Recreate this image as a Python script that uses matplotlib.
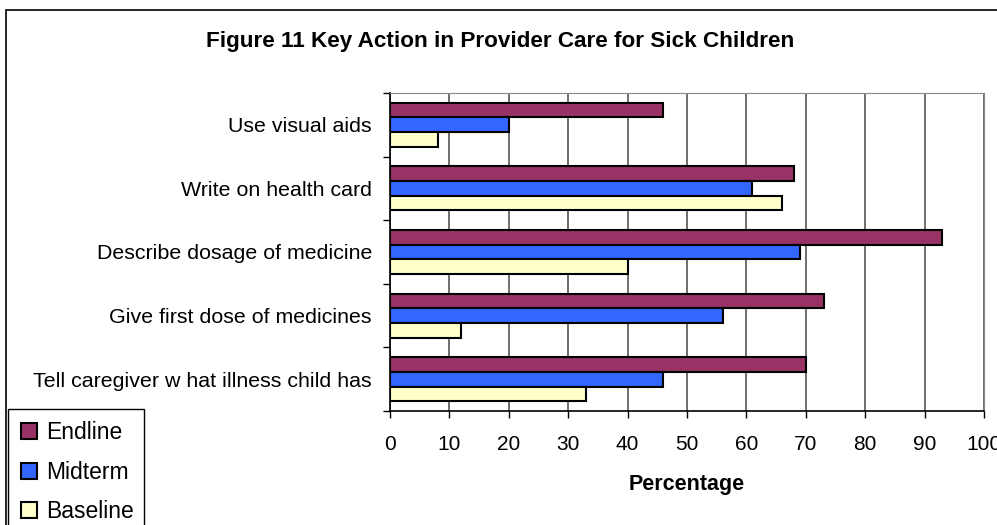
import matplotlib
matplotlib.use('Agg')
import numpy as np
import matplotlib.pyplot as plt
from matplotlib.patches import Rectangle

plt.rcParams['font.family'] = ['Liberation Sans', 'DejaVu Sans']

actions = ['Use visual aids', 'Write on health card', 'Describe dosage of medicine',
           'Give first dose of medicines', 'Tell caregiver w hat illness child has']
endline = [46, 68, 93, 73, 70]
midterm = [20, 61, 69, 56, 46]
baseline = [8, 66, 40, 12, 33]
series = ['Endline', 'Midterm', 'Baseline']
colors = ['#993366', '#3366FF', '#FFFFCC']

W, H = 997, 525
fig = plt.figure(figsize=(W / 100, H / 100), dpi=100)

# outer chart border, runs off the right and bottom edges
fig.patches.append(Rectangle((6 / W, -0.1), 1.2, 1 - 10 / H + 0.1, transform=fig.transFigure,
                             fill=False, edgecolor='black', lw=1.2))

ax = fig.add_axes([390 / W, 1 - 411 / H, 594 / W, 318 / H])

y = np.arange(len(actions))[::-1]
h = 0.23
bars = []
for vals, off, c, name in zip([endline, midterm, baseline], [h, 0, -h], colors, series):
    b = ax.barh(y + off, vals, height=h, color=c, edgecolor='black', lw=1.5, label=name, zorder=3)
    bars.append(b)

ax.set_xlim(0, 100)
ax.set_ylim(-0.5, len(actions) - 0.5)
ax.set_xticks(range(0, 101, 10))
ax.tick_params(axis='x', length=5, width=1, pad=12, labelsize=15)
ax.set_yticks(y)
ax.set_yticklabels(actions, fontsize=15.4)
ax.tick_params(axis='y', length=0, pad=13)
ax.set_yticks(np.arange(-0.5, len(actions), 1), minor=True)
ax.tick_params(axis='y', which='minor', length=5, width=1)
ax.grid(axis='x', color='#555555', lw=1.2, zorder=0)
ax.spines['top'].set_color('#888888')
ax.spines['right'].set_color('#888888')
ax.spines['left'].set_linewidth(1.2)
ax.spines['bottom'].set_linewidth(1.2)
ax.set_xlabel('Percentage', fontsize=15.5, fontweight='bold', labelpad=15)

fig.text(500 / W, 1 - 41 / H, 'Figure 11 Key Action in Provider Care for Sick Children',
         fontsize=16.2, fontweight='bold', ha='center', va='center')

# legend box, also cut off by the bottom edge
fig.patches.append(Rectangle((8 / W, -0.1), 136 / W, 1 - 409 / H + 0.1, transform=fig.transFigure,
                             fill=False, edgecolor='black', lw=1.0))
fig.legend(handles=bars, labels=series, loc='upper left', bbox_to_anchor=(12 / W, 1 - 412 / H),
           frameon=False, fontsize=16.5, handlelength=0.7, handleheight=0.7, handletextpad=0.4,
           labelspacing=0.72, borderaxespad=0)

fig.savefig('out.png', dpi=100)
